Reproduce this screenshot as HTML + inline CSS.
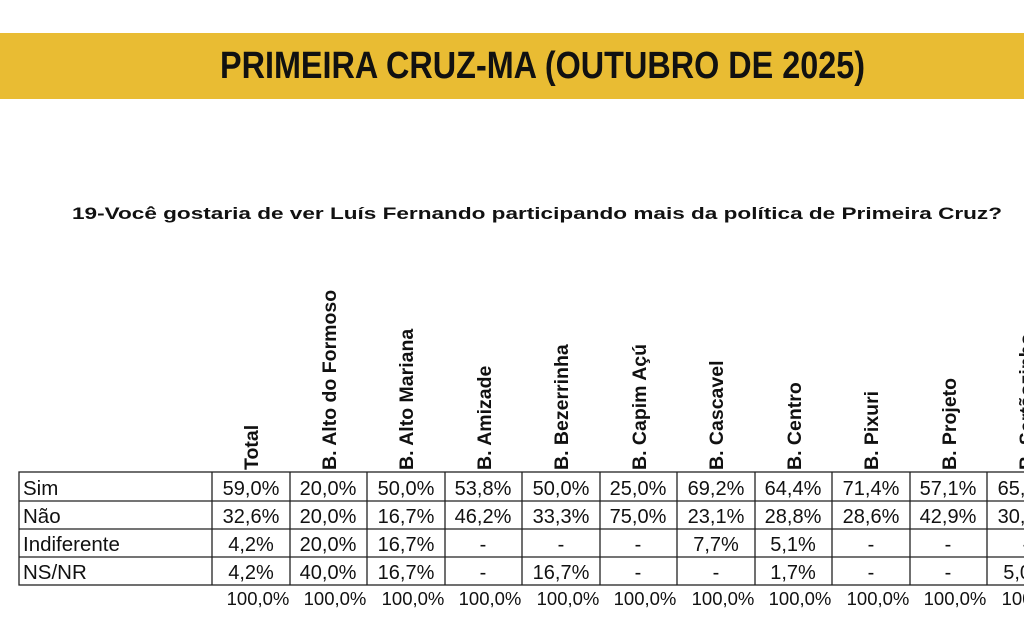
<!DOCTYPE html>
<html><head><meta charset="utf-8"><style>
html,body{margin:0;padding:0;background:#fff;width:1024px;height:634px;overflow:hidden}
svg{display:block}
text{font-family:"Liberation Sans",Arial,sans-serif;fill:#111}
</style></head><body>
<svg width="1024" height="634" viewBox="0 0 1024 634" xmlns="http://www.w3.org/2000/svg">
<rect x="0" y="33" width="1024" height="66" fill="#E9BC33"/>
<text x="220" y="78" font-size="38" font-weight="bold" textLength="645" lengthAdjust="spacingAndGlyphs">PRIMEIRA CRUZ-MA (OUTUBRO DE 2025)</text>
<text x="72" y="219" font-size="17" font-weight="bold" textLength="930" lengthAdjust="spacingAndGlyphs">19-Você gostaria de ver Luís Fernando participando mais da política de Primeira Cruz?</text>
<g font-size="19.5" font-weight="bold">
<text transform="translate(258,470) rotate(-90)">Total</text>
<text transform="translate(336,470) rotate(-90)">B. Alto do Formoso</text>
<text transform="translate(413,470) rotate(-90)">B. Alto Mariana</text>
<text transform="translate(491,470) rotate(-90)">B. Amizade</text>
<text transform="translate(568,470) rotate(-90)">B. Bezerrinha</text>
<text transform="translate(646,470) rotate(-90)">B. Capim  Açú</text>
<text transform="translate(723,470) rotate(-90)">B. Cascavel</text>
<text transform="translate(801,470) rotate(-90)">B. Centro</text>
<text transform="translate(878,470) rotate(-90)">B. Pixuri</text>
<text transform="translate(956,470) rotate(-90)">B. Projeto</text>
<text transform="translate(1033,470) rotate(-90)">B. Sertãozinho</text>
</g>
<g stroke="#222" stroke-width="1.3" fill="none">
<rect x="19" y="472" width="1010" height="113"/>
<line x1="19" y1="501" x2="1024" y2="501"/>
<line x1="19" y1="529" x2="1024" y2="529"/>
<line x1="19" y1="557" x2="1024" y2="557"/>
<line x1="212" y1="472" x2="212" y2="585"/>
<line x1="290" y1="472" x2="290" y2="585"/>
<line x1="367" y1="472" x2="367" y2="585"/>
<line x1="445" y1="472" x2="445" y2="585"/>
<line x1="522" y1="472" x2="522" y2="585"/>
<line x1="600" y1="472" x2="600" y2="585"/>
<line x1="677" y1="472" x2="677" y2="585"/>
<line x1="755" y1="472" x2="755" y2="585"/>
<line x1="832" y1="472" x2="832" y2="585"/>
<line x1="910" y1="472" x2="910" y2="585"/>
<line x1="987" y1="472" x2="987" y2="585"/>
</g>
<g font-size="20.5">
<text x="23" y="495">Sim</text>
<text x="23" y="523">Não</text>
<text x="23" y="551">Indiferente</text>
<text x="23" y="579">NS/NR</text>
</g>
<g font-size="20" text-anchor="middle">
<g transform="translate(251,0)"><text y="495">59,0%</text><text y="523">32,6%</text><text y="551">4,2%</text><text y="579">4,2%</text></g>
<g transform="translate(328,0)"><text y="495">20,0%</text><text y="523">20,0%</text><text y="551">20,0%</text><text y="579">40,0%</text></g>
<g transform="translate(406,0)"><text y="495">50,0%</text><text y="523">16,7%</text><text y="551">16,7%</text><text y="579">16,7%</text></g>
<g transform="translate(483,0)"><text y="495">53,8%</text><text y="523">46,2%</text><text y="551">-</text><text y="579">-</text></g>
<g transform="translate(561,0)"><text y="495">50,0%</text><text y="523">33,3%</text><text y="551">-</text><text y="579">16,7%</text></g>
<g transform="translate(638,0)"><text y="495">25,0%</text><text y="523">75,0%</text><text y="551">-</text><text y="579">-</text></g>
<g transform="translate(716,0)"><text y="495">69,2%</text><text y="523">23,1%</text><text y="551">7,7%</text><text y="579">-</text></g>
<g transform="translate(793,0)"><text y="495">64,4%</text><text y="523">28,8%</text><text y="551">5,1%</text><text y="579">1,7%</text></g>
<g transform="translate(871,0)"><text y="495">71,4%</text><text y="523">28,6%</text><text y="551">-</text><text y="579">-</text></g>
<g transform="translate(948,0)"><text y="495">57,1%</text><text y="523">42,9%</text><text y="551">-</text><text y="579">-</text></g>
<g transform="translate(1026,0)"><text y="495">65,0%</text><text y="523">30,0%</text><text y="551">-</text><text y="579">5,0%</text></g>
</g>
<g font-size="18.5" text-anchor="middle">
<text x="258" y="605">100,0%</text><text x="335" y="605">100,0%</text><text x="413" y="605">100,0%</text><text x="490" y="605">100,0%</text><text x="568" y="605">100,0%</text><text x="645" y="605">100,0%</text><text x="723" y="605">100,0%</text><text x="800" y="605">100,0%</text><text x="878" y="605">100,0%</text><text x="955" y="605">100,0%</text><text x="1033" y="605">100,0%</text>
</g>
</svg>
</body></html>
